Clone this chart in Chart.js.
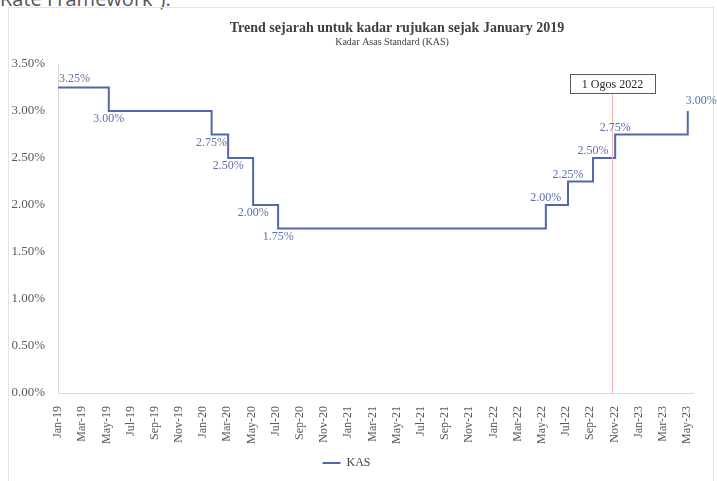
<!DOCTYPE html>
<html>
<head>
<meta charset="utf-8">
<script src="https://cdn.jsdelivr.net/npm/chart.js@4.4.1/dist/chart.umd.min.js"></script>
<style>
    html, body { margin: 0; padding: 0; background: #fff; overflow: hidden; }
    #page { position: relative; width: 717px; height: 481px; }
    #lead { position: absolute; left: 0; top: -15px; font: 20px 'Open Sans', sans-serif; color: #555; white-space: nowrap; }
    #frame { position: absolute; left: 8px; top: 7px; width: 706px; height: 490px; border: 1px solid #e3e3e3; box-sizing: border-box; }
    #chart { position: absolute; left: 0; top: 0; }
</style>
</head>
<body>
<div id="page">
    <div id="lead">Rate Framework”).</div>
    <div id="frame"></div>
    <canvas id="chart" width="717" height="481"></canvas>
</div>
<script>
// Chart data
const tickLabels = ['Jan-19', 'Mar-19', 'May-19', 'Jul-19', 'Sep-19', 'Nov-19',
    'Jan-20', 'Mar-20', 'May-20', 'Jul-20', 'Sep-20', 'Nov-20',
    'Jan-21', 'Mar-21', 'May-21', 'Jul-21', 'Sep-21', 'Nov-21',
    'Jan-22', 'Mar-22', 'May-22', 'Jul-22', 'Sep-22', 'Nov-22',
    'Jan-23', 'Mar-23', 'May-23'];
const changeDates = ['2019-01-01', '2019-05-07', '2020-01-22', '2020-03-03', '2020-05-05',
    '2020-07-07', '2022-05-11', '2022-07-06', '2022-09-08', '2022-11-03', '2023-05-03'];
const kasRates = [3.25, 3.00, 2.75, 2.50, 2.00, 1.75, 2.00, 2.25, 2.50, 2.75, 3.00];
const yTicks = [0, 0.5, 1.0, 1.5, 2.0, 2.5, 3.0, 3.5];
const markerDate = '2022-10-25';
const markerText = '1 Ogos 2022';

// where each value label sits relative to its step
const labelPlacement = ['above', 'below', 'below', 'below', 'below', 'below',
    'above', 'above', 'above', 'above', 'above'];

const LINE_COLOR = '#5068aa';
const LABEL_COLOR = '#5d6fae';
const SERIF = "'Liberation Serif', 'DejaVu Serif', serif";

// months since Jan 2019
function monthIndex(dateStr) {
    const [y, m, d] = dateStr.split('-').map(Number);
    return (y - 2019) * 12 + (m - 1) + (d - 1) / 30;
}

const points = changeDates.map((d, i) => ({ x: monthIndex(d), y: kasRates[i] }));

// Title and subtitle
const titlePlugin = {
    id: 'titles',
    afterDraw(chart) {
        const ctx = chart.ctx;
        ctx.save();
        ctx.fillStyle = '#404040';
        ctx.textAlign = 'center';
        ctx.textBaseline = 'middle';
        ctx.font = 'bold 14px ' + SERIF;
        ctx.fillText('Trend sejarah untuk kadar rujukan sejak January 2019', 397, 28);
        ctx.font = '10px ' + SERIF;
        ctx.fillText('Kadar Asas Standard (KAS)', 392, 42);
        ctx.restore();
    }
};

// Marker line with boxed note
const markerPlugin = {
    id: 'marker',
    afterDatasetsDraw(chart) {
        const ctx = chart.ctx;
        const area = chart.chartArea;
        const x = Math.round(chart.scales.x.getPixelForValue(monthIndex(markerDate))) + 0.5;
        ctx.save();
        ctx.font = '12px ' + SERIF;
        const w = ctx.measureText(markerText).width + 24;
        const boxTop = 74, boxH = 19;
        ctx.strokeStyle = '#f0b4b4';
        ctx.lineWidth = 1;
        ctx.beginPath();
        ctx.moveTo(x, boxTop + boxH);
        ctx.lineTo(x, area.bottom);
        ctx.stroke();
        ctx.strokeStyle = '#595959';
        ctx.strokeRect(Math.round(x - w / 2) + 0.5, boxTop + 0.5, Math.round(w), boxH);
        ctx.fillStyle = '#262626';
        ctx.textAlign = 'center';
        ctx.textBaseline = 'middle';
        ctx.fillText(markerText, x, boxTop + boxH / 2 + 1);
        ctx.restore();
    }
};

// Value labels at each rate change
const valueLabelPlugin = {
    id: 'valueLabels',
    afterDatasetsDraw(chart) {
        const ctx = chart.ctx;
        const meta = chart.getDatasetMeta(0);
        ctx.save();
        ctx.font = '12px ' + SERIF;
        ctx.fillStyle = LABEL_COLOR;
        meta.data.forEach((pt, i) => {
            const text = kasRates[i].toFixed(2) + '%';
            const last = i === meta.data.length - 1;
            let x = pt.x;
            let y = pt.y;
            if (i === 0 || last) {
                ctx.textAlign = 'left';
                x = i === 0 ? x + 1 : x - 2;
            } else {
                ctx.textAlign = 'center';
            }
            if (labelPlacement[i] === 'above') {
                ctx.textBaseline = 'bottom';
                y = last ? y - 4 : y - 1;
                if (i === 0) y = y - 2;
            } else {
                ctx.textBaseline = 'top';
                y = y + 2;
            }
            ctx.fillText(text, x, y);
        });
        ctx.restore();
    }
};

new Chart(document.getElementById('chart').getContext('2d'), {
    type: 'line',
    data: {
        datasets: [{
            label: 'KAS',
            data: points,
            borderColor: LINE_COLOR,
            backgroundColor: LINE_COLOR,
            borderWidth: 2,
            stepped: 'before',
            pointRadius: 0,
            fill: false
        }]
    },
    options: {
        responsive: false,
        animation: false,
        devicePixelRatio: 1,
        layout: { padding: { top: 64, right: 24, left: 0, bottom: 2 } },
        scales: {
            x: {
                type: 'linear',
                min: 0,
                max: 52.5,
                grid: { display: false },
                border: { display: true, color: '#d9d9d9' },
                ticks: {
                    stepSize: 2,
                    includeBounds: false,
                    autoSkip: false,
                    minRotation: 90,
                    maxRotation: 90,
                    padding: 5,
                    color: '#595959',
                    font: { family: SERIF, size: 12 },
                    callback: v => tickLabels[v / 2] || ''
                },
                afterFit: scale => { scale.height = 56; }
            },
            y: {
                min: 0,
                max: 3.5,
                grid: { display: false },
                border: { display: true, color: '#d9d9d9' },
                afterBuildTicks: scale => { scale.ticks = yTicks.map(v => ({ value: v })); },
                ticks: {
                    padding: 5,
                    color: '#595959',
                    font: { family: SERIF, size: 13 },
                    callback: v => v.toFixed(2) + '%'
                },
                afterFit: scale => { scale.width = 58; }
            }
        },
        plugins: {
            legend: {
                position: 'bottom',
                labels: {
                    usePointStyle: true,
                    pointStyle: 'line',
                    pointStyleWidth: 18,
                    color: '#404040',
                    font: { family: SERIF, size: 12 },
                    padding: 8
                }
            },
            tooltip: { enabled: false }
        }
    },
    plugins: [titlePlugin, markerPlugin, valueLabelPlugin]
});
</script>
</body>
</html>
